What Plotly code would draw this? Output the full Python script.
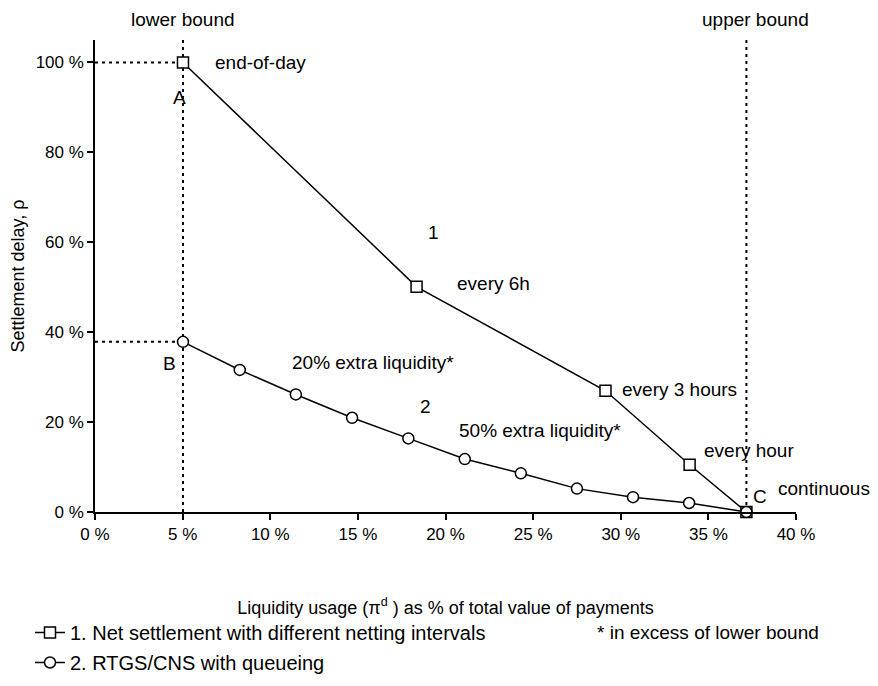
import plotly.graph_objects as go

# Series 1: net settlement with different netting intervals
net_x = [5.02, 18.35, 29.13, 33.93, 37.17]
net_y = [100.0, 50.1, 26.96, 10.5, 0.0]

# Series 2: RTGS/CNS with queueing
rtgs_x = [5.02, 8.26, 11.46, 14.67, 17.88, 21.1, 24.3, 27.5, 30.7, 33.9, 37.17]
rtgs_y = [37.85, 31.6, 26.15, 20.96, 16.37, 11.78, 8.6, 5.2, 3.3, 2.0, 0.0]

lower_bound = 5.02
upper_bound = 37.17

x_ticks = [0, 5, 10, 15, 20, 25, 30, 35, 40]
x_tick_labels = ["0 %", "5 %", "10 %", "15 %", "20 %", "25 %", "30 %", "35 %", "40 %"]
y_ticks = [0, 20, 40, 60, 80, 100]
y_tick_labels = ["0 %", "20 %", "40 %", "60 %", "80 %", "100 %"]

FONT = "Liberation Sans, Arial, sans-serif"

fig = go.Figure()

dot = dict(color="black", width=2, dash="3px,4px")
# dotted guide lines
fig.add_trace(go.Scatter(x=[lower_bound, lower_bound], y=[0, 105], mode="lines", line=dot,
                         showlegend=False, hoverinfo="skip", cliponaxis=False))
fig.add_trace(go.Scatter(x=[upper_bound, upper_bound], y=[0, 105], mode="lines", line=dot,
                         showlegend=False, hoverinfo="skip", cliponaxis=False))
fig.add_trace(go.Scatter(x=[0, net_x[0]], y=[net_y[0], net_y[0]], mode="lines", line=dot,
                         showlegend=False, hoverinfo="skip", cliponaxis=False))
fig.add_trace(go.Scatter(x=[0, rtgs_x[0]], y=[rtgs_y[0], rtgs_y[0]], mode="lines", line=dot,
                         showlegend=False, hoverinfo="skip", cliponaxis=False))

fig.add_trace(go.Scatter(
    x=net_x, y=net_y, mode="lines+markers",
    name="1. Net settlement with different netting intervals",
    line=dict(color="black", width=1.5),
    marker=dict(symbol="square", size=11, color="white", line=dict(color="black", width=1.5)),
    cliponaxis=False, legendgroup="a"))
fig.add_trace(go.Scatter(
    x=rtgs_x, y=rtgs_y, mode="lines+markers",
    name="2. RTGS/CNS with queueing",
    line=dict(color="black", width=1.5),
    marker=dict(symbol="circle", size=11, color="white", line=dict(color="black", width=1.5)),
    cliponaxis=False, legendgroup="b"))

ann_font = dict(family=FONT, size=19, color="black")
labels = [
    ("end-of-day", 6.71, 100.0, "left"),
    ("A", 4.83, 92.2, "center"),
    ("1", 19.29, 62.2, "center"),
    ("every 6h", 20.54, 50.9, "left"),
    ("B", 4.26, 33.1, "center"),
    ("20% extra liquidity*", 11.11, 33.2, "left"),
    ("2", 18.83, 23.4, "center"),
    ("50% extra liquidity*", 20.64, 18.2, "left"),
    ("every 3 hours", 29.97, 27.3, "left"),
    ("every hour", 34.64, 13.6, "left"),
    ("C", 37.97, 3.4, "center"),
    ("continuous", 38.83, 5.3, "left"),
]
for t, x, y, xa in labels:
    fig.add_annotation(x=x, y=y, text=t, showarrow=False, xanchor=xa, yanchor="middle",
                       font=ann_font, xref="x", yref="y")

# bound labels above plot area
fig.add_annotation(x=5.0, y=(512 - 20) / 472, xref="x", yref="paper", text="lower bound",
                   showarrow=False, xanchor="center", yanchor="middle", font=ann_font)
fig.add_annotation(x=37.69, y=(512 - 20) / 472, xref="x", yref="paper", text="upper bound",
                   showarrow=False, xanchor="center", yanchor="middle", font=ann_font)

fig.add_annotation(x=(595 - 95) / 701, y=(512 - 633) / 472, xref="paper", yref="paper",
                   text="* in excess of lower bound", showarrow=False,
                   xanchor="left", yanchor="middle", font=ann_font)

# page body has an 8px margin, so the figure is sized/offset to compensate
fig.update_layout(
    width=870, height=678,
    margin=dict(l=87, r=82, t=32, b=174, autoexpand=False),
    paper_bgcolor="white", plot_bgcolor="white",
    font=dict(family=FONT, size=17, color="black"),
    showlegend=True,
    legend=dict(x=(30 - 95) / 701, y=(512 - 613) / 472, xanchor="left", yanchor="top",
                font=dict(family=FONT, size=20, color="black"),
                traceorder="grouped", tracegroupgap=1, bgcolor="rgba(0,0,0,0)"),
    xaxis=dict(range=[0, 40], tickvals=x_ticks, ticktext=x_tick_labels, automargin=False,
               showgrid=False, zeroline=False, showline=True, linecolor="black", linewidth=1.5,
               ticks="outside", ticklen=6, tickwidth=1.5, tickcolor="black",
               tickfont=dict(size=17),
               title=dict(text="Liquidity usage (\u03c0<sup>d</sup> ) as % of total value of payments",
                          font=dict(size=18), standoff=58)),
    yaxis=dict(range=[0, 105], tickvals=y_ticks, ticktext=y_tick_labels, automargin=False,
               showgrid=False, zeroline=False, showline=True, linecolor="black", linewidth=1.5,
               ticks="outside", ticklen=6, tickwidth=1.5, tickcolor="black",
               tickfont=dict(size=17),
               title=dict(text="Settlement delay, \u03c1", font=dict(size=18), standoff=6)),
)

fig.write_html("out.html")
